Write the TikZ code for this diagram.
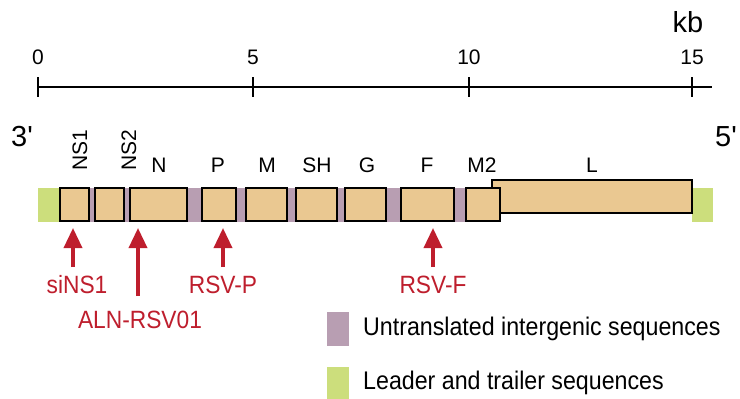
\documentclass[tikz,border=0pt]{standalone}
\usepackage{fontspec}
\setmainfont{Liberation Sans}
\newfontfamily\condfont[FakeStretch=0.91]{Liberation Sans}
\usetikzlibrary{arrows.meta}
\definecolor{genefill}{HTML}{EAC891}
\definecolor{igpurple}{HTML}{B89EB2}
\definecolor{ltgreen}{HTML}{CCDE7C}
\definecolor{arrred}{HTML}{BE1E2D}
\tikzset{
  lbl/.style={inner sep=0pt, font=\fontsize{21}{21}\selectfont},
  endlbl/.style={inner sep=0pt, font=\fontsize{29}{29}\selectfont},
  leglbl/.style={inner sep=0pt, font=\condfont\fontsize{25.5}{25.5}\selectfont},
  redlbl/.style={inner sep=0pt, text=arrred, font=\condfont\fontsize{25}{25}\selectfont},
  gene/.style={draw=black, line width=2.2pt, fill=genefill},
  arr/.style={draw=arrred, line width=3.5pt, -{Triangle[width=18pt,length=20pt]}},
  tick/.style={line width=2.4pt},
}
\begin{document}
\begin{tikzpicture}[x=1pt,y=-1pt]
\useasboundingbox (0,0) rectangle (740,399);
% scale bar
\node[endlbl] (kb) at (688,22) {kb};
\coordinate (s0) at (38,87);
\coordinate (s15end) at (712,87);
\draw[tick] (s0) -- (s15end);
\foreach \x/\t/\n in {38/0/a,253/5/b,469/10/c,692/15/d}{
  \draw[tick] (\x,77) -- (\x,97);
  \node[lbl] (tick\n) at (\x,57) {\t};
}
% end labels
\node[endlbl] (three) at (22,137) {3\textquotesingle};
\node[endlbl] (five) at (726,137) {5\textquotesingle};
% leader/trailer and intergenic
\fill[ltgreen] (38,188) rectangle (59,222);
\fill[ltgreen] (692,188) rectangle (713,222);
\fill[igpurple] (59,188) rectangle (495,222);
% genes
\draw[gene] (492,180) rectangle (692,213);
\path (592,197) node (L) {};
\foreach \a/\b/\n in {60/89/NSone,95/124/NStwo,130/187/N,202/236/P,246/287/M,296/337/SH,345/386/G,401/454/F,466/500/Mtwo}{
  \draw[gene] (\a,188) rectangle (\b,221);
  \path ({(\a+\b)/2},204.5) node (\n) {};
}
% gene labels
\node[lbl,rotate=90] (lNS1) at (80,150) {NS1};
\node[lbl,rotate=90] (lNS2) at (129,150) {NS2};
\node[lbl] (lN) at (159,165) {N};
\node[lbl] (lP) at (218,165) {P};
\node[lbl] (lM) at (267,165) {M};
\node[lbl] (lSH) at (317,165) {SH};
\node[lbl] (lG) at (367,165) {G};
\node[lbl] (lF) at (427,165) {F};
\node[lbl] (lM2) at (482,165) {M2};
\node[lbl] (lL) at (592,165) {L};
% arrows
\coordinate (t1) at (73,228); \coordinate (b1) at (73,267);
\coordinate (t2) at (138,228); \coordinate (b2) at (138,296);
\coordinate (t3) at (223,228); \coordinate (b3) at (223,267);
\coordinate (t4) at (433,228); \coordinate (b4) at (433,267);
\draw[arr] (b1) -- (t1);
\draw[arr] (b2) -- (t2);
\draw[arr] (b3) -- (t3);
\draw[arr] (b4) -- (t4);
\node[redlbl] (siNS1) at (77,285) {siNS1};
\node[redlbl] (aln) at (140,320) {ALN-RSV01};
\node[redlbl] (rsvp) at (223,285) {RSV-P};
\node[redlbl] (rsvf) at (433,285) {RSV-F};
% legend
\fill[igpurple] (327,312) rectangle (349,346);
\node[leglbl,anchor=west] (leg1) at (363,329) {Untranslated intergenic sequences};
\fill[ltgreen] (327,367) rectangle (349,399);
\node[leglbl,anchor=west] (leg2) at (363,383) {Leader and trailer sequences};
\end{tikzpicture}
\end{document}
